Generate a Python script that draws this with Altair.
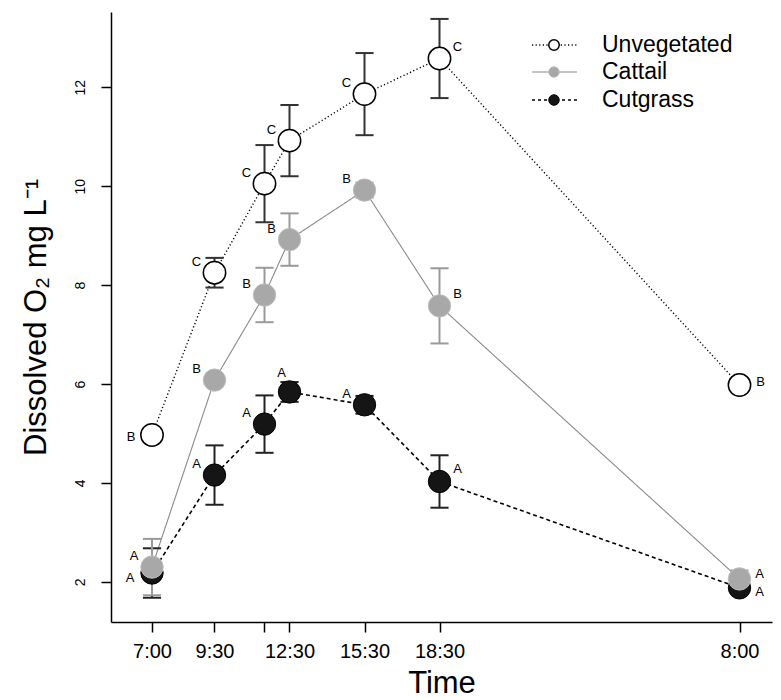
import altair as alt
import pandas as pd

# ---------------- data ----------------
times = [7, 9.5, 11.5, 12.5, 15.5, 18.5, 30.5]          # hours (8:00 = next morning)
tick_hours = [7, 9.5, 11.5, 12.5, 15.5, 18.5, 30.5]
tick_labels = ["7:00", "9:30", "", "12:30", "15:30", "18:30", "8:00"]
y_ticks = [2, 4, 6, 8, 10, 12]

series_names = ["Unvegetated", "Cattail", "Cutgrass"]

unveg_mean = [4.97, 8.25, 10.05, 10.92, 11.86, 12.58, 5.98]
unveg_se = [0.10, 0.30, 0.78, 0.72, 0.83, 0.80, 0.10]
unveg_letters = ["B", "C", "C", "C", "C", "C", "B"]

cattail_mean = [2.30, 6.08, 7.80, 8.92, 9.92, 7.58, 2.06]
cattail_se = [0.57, 0.10, 0.55, 0.53, 0.15, 0.76, 0.17]
cattail_letters = ["A", "B", "B", "B", "B", "B", "A"]

cutgrass_mean = [2.18, 4.16, 5.19, 5.84, 5.58, 4.03, 1.88]
cutgrass_se = [0.50, 0.60, 0.58, 0.20, 0.18, 0.53, 0.10]
cutgrass_letters = ["A", "A", "A", "A", "A", "A", "A"]

# where each significance letter sits relative to its point
unveg_place = ["l", "ul", "ul", "ul", "ul", "ur", "r"]
cattail_place = ["ul", "ul", "ul", "ul", "ul", "ur", "r_up"]
cutgrass_place = ["l_down", "ul", "ul", "u", "ul", "ur", "r_down"]

place_offsets = {
    "l": (-21, 2), "l_down": (-22, 5), "ul": (-18, -11), "u": (-8, -19),
    "ur": (18, -12), "r": (21, -3), "r_up": (20, -5), "r_down": (20, 4),
}

means = {"Unvegetated": unveg_mean, "Cattail": cattail_mean, "Cutgrass": cutgrass_mean}
ses = {"Unvegetated": unveg_se, "Cattail": cattail_se, "Cutgrass": cutgrass_se}
letters = {"Unvegetated": unveg_letters, "Cattail": cattail_letters, "Cutgrass": cutgrass_letters}
places = {"Unvegetated": unveg_place, "Cattail": cattail_place, "Cutgrass": cutgrass_place}

styles = {
    "Unvegetated": dict(line="#000000", lw=1.4, dash=[1.2, 2.4], fill="#ffffff", stroke="#000000",
                        sw=1.5, err="#333333"),
    "Cattail": dict(line="#8a8a8a", lw=1.1, dash=[1, 0], fill="#a8a8a8", stroke="#bdbdbd",
                    sw=1.0, err="#9a9a9a"),
    "Cutgrass": dict(line="#000000", lw=1.6, dash=[4, 3], fill="#151515", stroke="#000000",
                     sw=1.0, err="#222222"),
}

rows = []
for s in series_names:
    for t, m, e, l, p in zip(times, means[s], ses[s], letters[s], places[s]):
        rows.append(dict(series=s, time=t, mean=m, lo=m - e, hi=m + e, letter=l, place=p))
df = pd.DataFrame(rows)

# ---------------- scales & axes ----------------
FONT = "Liberation Sans"
label_expr = " : ".join(
    f"datum.value == {h} ? '{lab}'" for h, lab in zip(tick_hours, tick_labels)
) + " : ''"

xscale = alt.Scale(domain=[5.36, 31.8], nice=False, zero=False)
yscale = alt.Scale(domain=[1.19, 13.52], nice=False, zero=False)

xaxis = alt.Axis(values=tick_hours, labelExpr=label_expr, title="Time", grid=False,
                 tickSize=10, labelFontSize=20, labelPadding=9, titleFontSize=31,
                 titleFontWeight="normal", titlePadding=7, labelFlush=False,
                 labelOverlap=False)
yaxis = alt.Axis(values=y_ticks, title="Dissolved O\u2082 mg L\u207b\u00b9", grid=False,
                 tickSize=10, labelAngle=270, labelAlign="center", labelBaseline="bottom",
                 labelFontSize=14, labelPadding=14, titleFontSize=31,
                 titleFontWeight="normal", titlePadding=21)

X = alt.X("time:Q", scale=xscale, axis=xaxis)
Y = alt.Y("mean:Q", scale=yscale, axis=yaxis)

base = alt.Chart(df)
layers = []
draw_order = ["Cutgrass", "Cattail", "Unvegetated"]

# connecting lines
for s in draw_order:
    st = styles[s]
    layers.append(
        base.transform_filter(alt.datum.series == s)
        .mark_line(color=st["line"], strokeWidth=st["lw"], strokeDash=st["dash"])
        .encode(x=X, y=Y, order="time:Q")
    )

# error bars
for s in draw_order:
    st = styles[s]
    sub = base.transform_filter(alt.datum.series == s)
    layers.append(
        sub.mark_rule(color=st["err"], strokeWidth=2)
        .encode(x=X, y=alt.Y("lo:Q", scale=yscale, axis=yaxis), y2="hi:Q")
    )
    for f in ["lo", "hi"]:
        layers.append(
            sub.mark_point(shape="M-1,0H1", size=330, stroke=st["err"], strokeWidth=2,
                           filled=False, opacity=1)
            .encode(x=X, y=alt.Y(f"{f}:Q", scale=yscale, axis=yaxis))
        )

# points
for s in draw_order:
    st = styles[s]
    layers.append(
        base.transform_filter(alt.datum.series == s)
        .mark_point(shape="circle", size=500, filled=True, fill=st["fill"],
                    stroke=st["stroke"], strokeWidth=st["sw"], opacity=1, fillOpacity=1)
        .encode(x=X, y=Y)
    )

# significance letters
for code, (dx, dy) in place_offsets.items():
    layers.append(
        base.transform_filter(alt.datum.place == code)
        .mark_text(dx=dx, dy=dy, font=FONT, fontSize=13, color="#000000",
                   align="center", baseline="middle")
        .encode(x=X, y=Y, text="letter:N")
    )

# legend (drawn manually: line + symbol + name)
legend_x0, legend_x1, legend_sym, legend_text = 421, 466, 443, 491
legend_rows = [33, 60, 88]
for s, ly in zip(series_names, legend_rows):
    st = styles[s]
    ldf = pd.DataFrame({"series": [s]})
    lb = alt.Chart(ldf)
    layers.append(
        lb.mark_rule(color=st["line"], strokeWidth=st["lw"],
                     strokeDash=st["dash"] if s != "Cutgrass" else [3, 3])
        .encode(x=alt.value(legend_x0), x2=alt.value(legend_x1), y=alt.value(ly))
    )
    layers.append(
        lb.mark_point(shape="circle", size=110, filled=True, fill=st["fill"],
                      stroke=st["stroke"], strokeWidth=st["sw"], opacity=1)
        .encode(x=alt.value(legend_sym), y=alt.value(ly))
    )
    layers.append(
        lb.mark_text(font=FONT, fontSize=23, align="left", baseline="middle", color="#000000")
        .encode(x=alt.value(legend_text), y=alt.value(ly), text="series:N")
    )

chart = (
    alt.layer(*layers)
    .properties(width=661, height=610,
                autosize=alt.AutoSizeParams(type="none"),
                padding={"left": 103, "top": 4, "right": 1, "bottom": 77})
    .configure_view(stroke=None)
    .configure_axis(labelFont=FONT, titleFont=FONT, labelColor="#000000",
                    titleColor="#000000", domainColor="#000000", tickColor="#000000",
                    domainWidth=1.5, tickWidth=1.5)
)

chart.save("out.html", embed_options={"renderer": "svg", "actions": False})
